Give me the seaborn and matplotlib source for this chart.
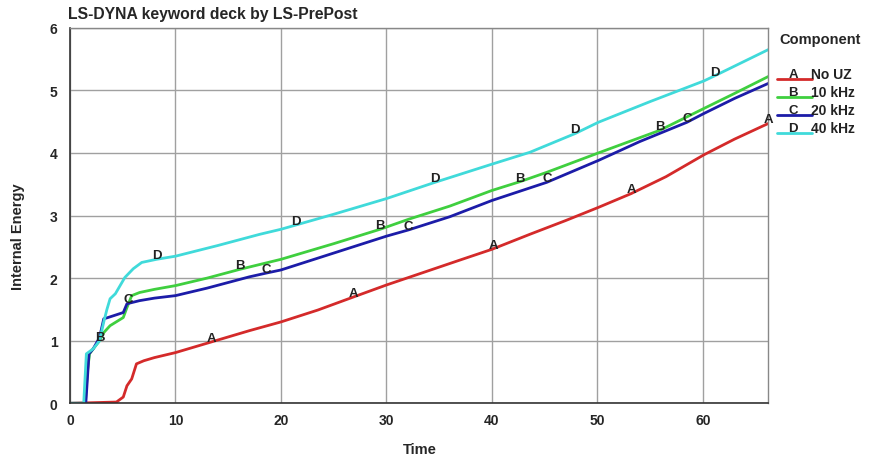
import numpy as np
import pandas as pd
import matplotlib
matplotlib.use("Agg")
import matplotlib.pyplot as plt
from matplotlib.lines import Line2D
import seaborn as sns

# ---- data ----
t_A = [0, 4.4, 5.05, 5.4, 5.85, 6.3, 7, 8, 10, 13.4, 17, 20, 23.5, 26.9, 30, 33.5, 37, 40, 43.6, 47, 50.1, 53.2, 56.5, 60.1, 63, 66.2]
e_A = [0, 0.02, 0.1, 0.28, 0.39, 0.63, 0.68, 0.73, 0.81, 0.98, 1.16, 1.30, 1.49, 1.70, 1.89, 2.09, 2.29, 2.46, 2.70, 2.92, 3.13, 3.35, 3.62, 3.97, 4.22, 4.47]

t_B = [0, 1.45, 1.65, 1.85, 2.2, 2.8, 3.2, 3.8, 5.05, 5.4, 5.85, 6.6, 8, 10, 13, 16.1, 20, 25, 29.4, 32.1, 36, 40, 42.65, 45.2, 50.1, 55.9, 60.1, 63, 66.2]
e_B = [0, 0, 0.5, 0.79, 0.87, 1.0, 1.13, 1.24, 1.37, 1.53, 1.72, 1.77, 1.82, 1.88, 2.0, 2.14, 2.30, 2.55, 2.78, 2.94, 3.15, 3.40, 3.54, 3.69, 4.0, 4.36, 4.71, 4.95, 5.22]

t_C = [0, 1.5, 1.8, 2.2, 2.8, 3.2, 3.6, 5.05, 5.4, 6.6, 8, 10, 13, 17, 18.6, 20, 25, 30, 32.1, 36, 40, 45.2, 50.1, 54, 58.5, 60.1, 63, 66.2]
e_C = [0, 0, 0.79, 0.87, 1.05, 1.35, 1.37, 1.45, 1.59, 1.64, 1.68, 1.72, 1.84, 2.02, 2.08, 2.13, 2.40, 2.67, 2.77, 2.98, 3.24, 3.53, 3.88, 4.18, 4.49, 4.63, 4.87, 5.11]

t_D = [0, 1.3, 1.55, 2.2, 2.8, 3.2, 3.5, 3.8, 4.3, 5.2, 6.0, 6.8, 8.2, 10, 14, 18, 20, 25, 30, 34.6, 40, 43.6, 47.9, 50.1, 55, 60.1, 61.1, 66.2]
e_D = [0, 0, 0.79, 0.87, 1.0, 1.3, 1.5, 1.67, 1.75, 2.01, 2.15, 2.25, 2.30, 2.35, 2.52, 2.70, 2.78, 3.02, 3.27, 3.53, 3.82, 4.01, 4.31, 4.49, 4.82, 5.15, 5.23, 5.65]

letters = ["A", "B", "C", "D"]
names = ["No UZ", "10 kHz", "20 kHz", "40 kHz"]
label_t_A = [13.4, 26.9, 40.1, 53.2, 66.2]
label_t_B = [2.8, 16.1, 29.4, 42.65, 55.9]
label_t_C = [5.5, 18.6, 32.1, 45.2, 58.5]
label_t_D = [8.2, 21.4, 34.6, 47.9, 61.1]

colors = ["#d42a2a", "#3fcf3f", "#1c1ca8", "#40dada"]

series = [(t_A, e_A, label_t_A), (t_B, e_B, label_t_B), (t_C, e_C, label_t_C), (t_D, e_D, label_t_D)]
frames = []
for name, (t, e, _) in zip(names, series):
    frames.append(pd.DataFrame({"Time": t, "Internal Energy": e, "Component": name}))
df = pd.concat(frames, ignore_index=True)

sns.set_style("white")
plt.rcParams["font.family"] = ["Liberation Sans", "DejaVu Sans"]

W, H = 869, 460
fig = plt.figure(figsize=(W / 100, H / 100), dpi=100)
ax = fig.add_axes([70 / W, 1 - 404.3 / H, (768.3 - 70) / W, (404.3 - 28.7) / H])

sns.lineplot(data=df, x="Time", y="Internal Energy", hue="Component",
             palette=dict(zip(names, colors)), hue_order=names,
             estimator=None, sort=False, linewidth=2.0, legend=False, ax=ax)

# letter markers along curves
for (t, e, lt), letter in zip(series, letters):
    for x in lt:
        y = float(np.interp(x, t, e))
        ax.annotate(letter, (x, y), xytext=(0, 3), textcoords="offset points",
                    ha="center", va="center", fontsize=9.5, fontweight="bold",
                    color="#222222", clip_on=False, zorder=5)

ax.set_xlim(0, 66.2)
ax.set_ylim(0, 6)
ax.set_xticks(range(0, 61, 10))
ax.set_xticks(range(5, 66, 10), minor=True)
ax.set_yticks(range(0, 7))
ax.set_yticks(np.arange(0.5, 6, 1.0), minor=True)
ax.grid(True, which="major", color="#a0a0a0", linewidth=1.0)
ax.tick_params(which="both", direction="in", length=5, color="#444444",
               labelsize=10)
for lab in ax.get_xticklabels() + ax.get_yticklabels():
    lab.set_fontweight("bold")
ax.tick_params(axis="x", pad=7)
ax.tick_params(axis="y", pad=9)
for s in ["left", "bottom"]:
    ax.spines[s].set_color("#333333")
    ax.spines[s].set_linewidth(1.2)
for s in ["top", "right"]:
    ax.spines[s].set_color("#888888")
    ax.spines[s].set_linewidth(1.0)
ax.set_xlabel("")
ax.set_ylabel("")

fig.text(68 / W, 1 - 15 / H, "LS-DYNA keyword deck by LS-PrePost",
         fontsize=11.3, fontweight="bold", ha="left", va="center")
fig.text(18 / W, 1 - 237 / H, "Internal Energy", rotation=90,
         fontsize=10.5, fontweight="bold", ha="center", va="center")
fig.text(420 / W, 1 - 450 / H, "Time", fontsize=10.5, fontweight="bold",
         ha="center", va="center")

# legend (outside right)
fig.text(779 / W, 1 - 40 / H, "Component", fontsize=10.5, fontweight="bold",
         ha="left", va="center")
leg_y = [75, 93, 111, 129]
for yy, c, letter, name in zip(leg_y, colors, letters, names):
    fig.add_artist(Line2D([777 / W, 812 / W], [1 - (yy + 5) / H] * 2,
                          color=c, linewidth=2.0, transform=fig.transFigure))
    fig.text(793 / W, 1 - yy / H, letter, fontsize=9.5, fontweight="bold",
             ha="center", va="center", color="#222222")
    fig.text(811 / W, 1 - yy / H, name, fontsize=10, fontweight="bold",
             ha="left", va="center", color="#222222")

fig.savefig("out.png", dpi=100)
